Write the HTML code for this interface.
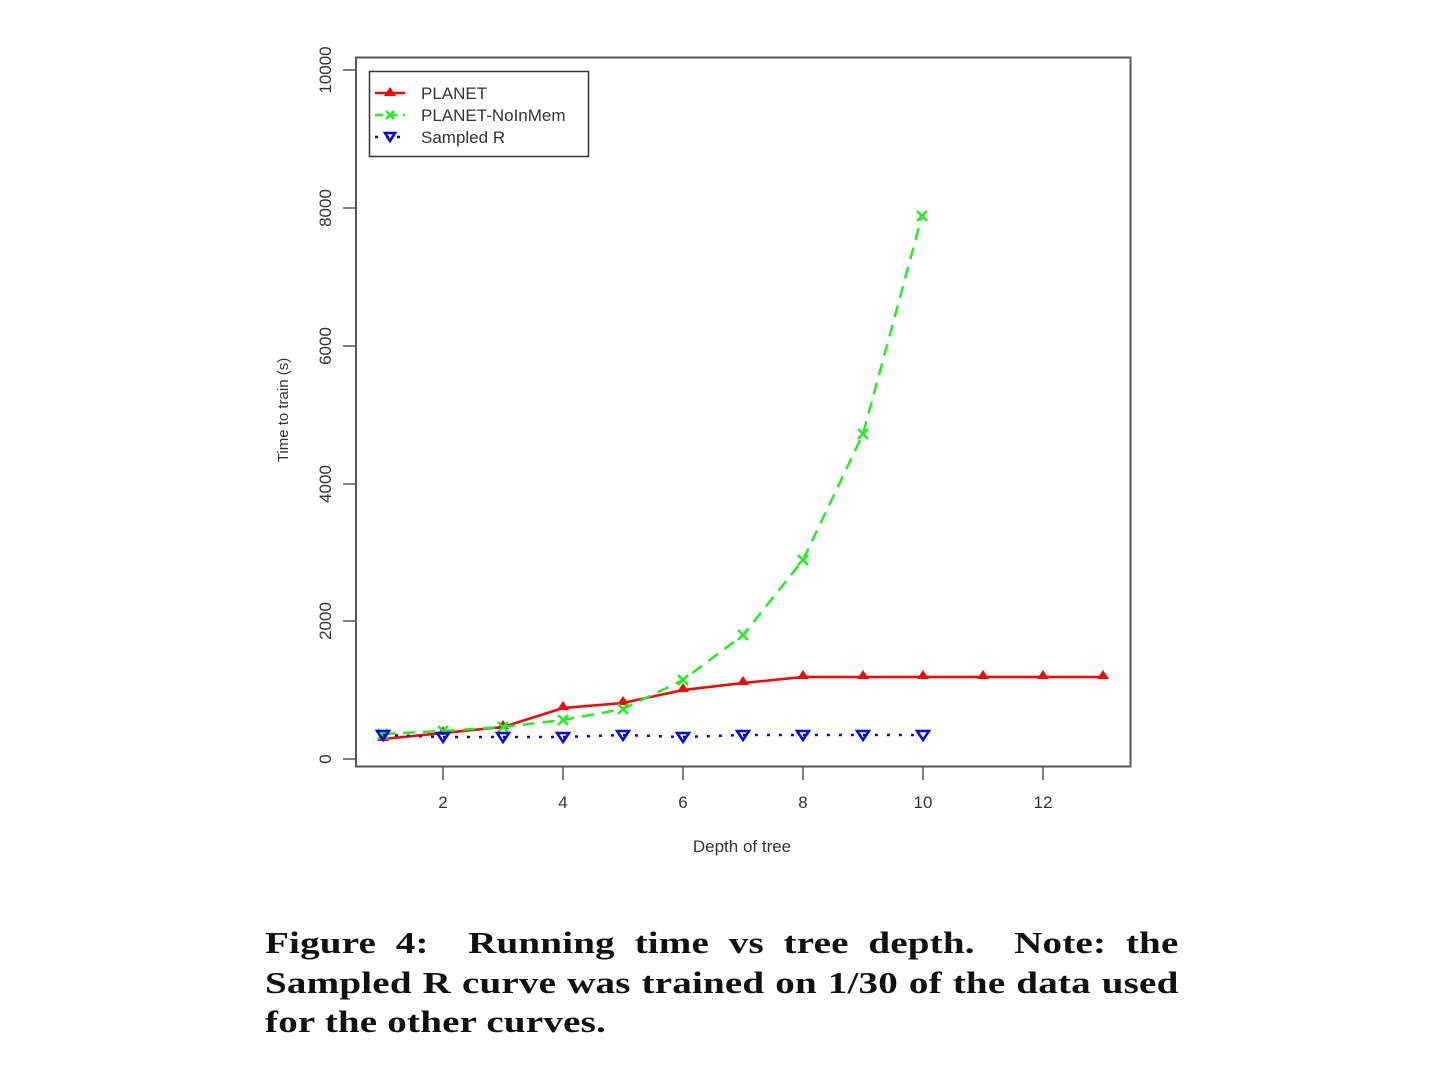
<!DOCTYPE html>
<html><head><meta charset="utf-8"><style>
html,body{margin:0;padding:0;background:#fff;width:1440px;height:1080px;overflow:hidden}
.cap{position:absolute;left:265px;top:923px;width:725px;transform:scaleX(1.26);transform-origin:0 0;font-family:"Liberation Serif",serif;font-weight:bold;font-size:31px;line-height:39.5px;color:#111;letter-spacing:0.15px}
.j{text-align:justify;text-align-last:justify;white-space:nowrap;overflow:visible}
</style></head><body>
<svg width="1440" height="1080" style="position:absolute;left:0;top:0" font-family="Liberation Sans, sans-serif">
<rect x="356" y="57.5" width="774.5" height="709" fill="none" stroke="#555" stroke-width="2"/>
<g stroke="#555" stroke-width="1.5">
<line x1="343" y1="759" x2="356" y2="759"/><line x1="343" y1="621" x2="356" y2="621"/>
<line x1="343" y1="484" x2="356" y2="484"/><line x1="343" y1="346" x2="356" y2="346"/>
<line x1="343" y1="208" x2="356" y2="208"/><line x1="343" y1="70" x2="356" y2="70"/>
<line x1="443" y1="767" x2="443" y2="780"/><line x1="563" y1="767" x2="563" y2="780"/>
<line x1="683" y1="767" x2="683" y2="780"/><line x1="803" y1="767" x2="803" y2="780"/>
<line x1="923" y1="767" x2="923" y2="780"/><line x1="1043" y1="767" x2="1043" y2="780"/>
</g>
<g font-size="17" fill="#333" text-anchor="middle">
<text transform="translate(331,759) rotate(-90)">0</text>
<text transform="translate(331,621) rotate(-90)">2000</text>
<text transform="translate(331,484) rotate(-90)">4000</text>
<text transform="translate(331,346) rotate(-90)">6000</text>
<text transform="translate(331,208) rotate(-90)">8000</text>
<text transform="translate(331,70) rotate(-90)">10000</text>
<text x="443" y="808">2</text><text x="563" y="808">4</text><text x="683" y="808">6</text>
<text x="803" y="808">8</text><text x="923" y="808">10</text><text x="1043" y="808">12</text>
<text x="742" y="852">Depth of tree</text>
<text transform="translate(288,410) rotate(-90)" font-size="15">Time to train (s)</text>
</g>
<polyline fill="none" stroke="#f00" stroke-width="2.5" points="383,739 443,733 503,727 563,708 623,703 683,690 743,683 803,677 863,677 923,677 983,677 1043,677 1103,677"/>
<g fill="#f00">
<path d="M383,732 l6,9 h-12z"/><path d="M443,726 l6,9 h-12z"/><path d="M503,720 l6,9 h-12z"/><path d="M563,701 l6,9 h-12z"/><path d="M623,696 l6,9 h-12z"/><path d="M683,683 l6,9 h-12z"/><path d="M743,676 l6,9 h-12z"/><path d="M803,670 l6,9 h-12z"/><path d="M863,670 l6,9 h-12z"/><path d="M923,670 l6,9 h-12z"/><path d="M983,670 l6,9 h-12z"/><path d="M1043,670 l6,9 h-12z"/><path d="M1103,670 l6,9 h-12z"/>
</g>
<polyline fill="none" stroke="#2e2" stroke-width="2.5" stroke-dasharray="12,8" points="383,734 443,731 503,727 563,720 623,709 683,680 743,635 803,560 863,434 922,216"/>
<g stroke="#2e2" stroke-width="2.5">
<path d="M378,729l10,10M388,729l-10,10M438,726l10,10M448,726l-10,10M498,722l10,10M508,722l-10,10M558,715l10,10M568,715l-10,10M618,704l10,10M628,704l-10,10M678,675l10,10M688,675l-10,10M738,630l10,10M748,630l-10,10M798,555l10,10M808,555l-10,10M858,429l10,10M868,429l-10,10M917,211l10,10M927,211l-10,10"/>
</g>
<polyline fill="none" stroke="#00f" stroke-width="2.5" stroke-dasharray="3,9" points="383,735 443,737 503,737 563,737 623,735 683,737 743,735 803,735 863,735 923,735"/>
<g fill="none" stroke="#00f" stroke-width="2.5">
<path d="M377,731h12l-6,9z"/><path d="M437,733h12l-6,9z"/><path d="M497,733h12l-6,9z"/><path d="M557,733h12l-6,9z"/><path d="M617,731h12l-6,9z"/><path d="M677,733h12l-6,9z"/><path d="M737,731h12l-6,9z"/><path d="M797,731h12l-6,9z"/><path d="M857,731h12l-6,9z"/><path d="M917,731h12l-6,9z"/>
</g>
<rect x="369.5" y="71.5" width="219" height="85" fill="#fff" stroke="#333" stroke-width="1.5"/>
<line x1="375" y1="93" x2="405" y2="93" stroke="#f00" stroke-width="2.5"/><path d="M390,87 l6,9 h-12z" fill="#f00"/>
<line x1="375" y1="115" x2="405" y2="115" stroke="#2e2" stroke-width="2.5" stroke-dasharray="8,6"/><path d="M386,111l8,8M394,111l-8,8" stroke="#2e2" stroke-width="2.5"/>
<line x1="375" y1="137" x2="405" y2="137" stroke="#00f" stroke-width="2.5" stroke-dasharray="3,8"/><path d="M385,133h10l-5,8z" fill="none" stroke="#00f" stroke-width="2.5"/>
<g font-size="17" fill="#333">
<text x="421" y="99">PLANET</text><text x="421" y="121">PLANET-NoInMem</text><text x="421" y="143">Sampled R</text>
</g>
</svg>
<div class="cap">
<div class="j">Figure 4: &nbsp;Running time vs tree depth. &nbsp;Note: the</div>
<div class="j">Sampled R curve was trained on 1/30 of the data used</div>
<div>for the other curves.</div>
</div>
</body></html>
